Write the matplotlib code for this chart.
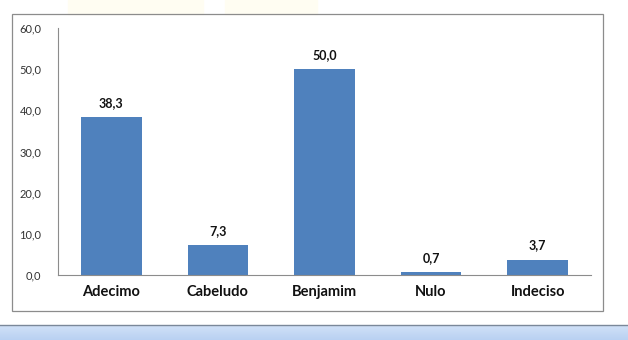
import numpy as np
import matplotlib
matplotlib.use('Agg')
import matplotlib.pyplot as plt
from matplotlib.patches import Rectangle
from matplotlib.lines import Line2D

categories = ['Adecimo', 'Cabeludo', 'Benjamim', 'Nulo', 'Indeciso']
values = [38.3, 7.3, 50.0, 0.7, 3.7]
yticks = [0, 10, 20, 30, 40, 50, 60]

plt.rcParams['font.family'] = ['Lato', 'DejaVu Sans']

fig = plt.figure(figsize=(6.28, 3.40), dpi=100)
fig.patch.set_facecolor('white')

# faint watermark blobs at top
fig.patches.append(Rectangle((68 / 628, 1 - 14 / 340), 135 / 628, 14 / 340,
                             transform=fig.transFigure, color='#fffdf2', zorder=0))
fig.patches.append(Rectangle((225 / 628, 1 - 14 / 340), 92 / 628, 14 / 340,
                             transform=fig.transFigure, color='#fffdf2', zorder=0))

# outer chart frame
fig.patches.append(Rectangle((12 / 628, 29 / 340), 591 / 628, 297 / 340,
                             transform=fig.transFigure, fill=False,
                             edgecolor='#8c8c8c', linewidth=0.9, zorder=1))

# bottom strip
strip = fig.add_axes([0, 0, 1, 14 / 340])
grad = np.linspace(0, 1, 50).reshape(-1, 1)
strip.imshow(grad, aspect='auto', cmap=matplotlib.colors.LinearSegmentedColormap.from_list(
    'g', ['#cfe0f7', '#b9d1f2']), extent=[0, 1, 0, 1])
strip.set_axis_off()
fig.lines.append(Line2D([0, 1], [15 / 340, 15 / 340], transform=fig.transFigure,
                        color='#7a8899', linewidth=1.0))

ax = fig.add_axes([58 / 628, 65 / 340, 533 / 628, 247 / 340])
x = np.arange(len(categories))
bars = ax.bar(x, values, width=0.57, color='#4f81bd', zorder=2)

ax.set_xlim(-0.5, len(categories) - 0.5)
ax.set_ylim(0, 60)
ax.set_yticks(yticks)
ax.set_yticklabels([('%.1f' % v).replace('.', ',') for v in yticks])
ax.set_xticks(x)
ax.set_xticklabels(categories, fontweight='bold', fontsize=10.5)

for s in ['top', 'right']:
    ax.spines[s].set_visible(False)
ax.spines['left'].set_color('#8c8c8c')
ax.spines['bottom'].set_color('#8c8c8c')
ax.tick_params(axis='y', length=0, labelsize=8, pad=12, colors='#333333')
ax.tick_params(axis='x', length=0, pad=7, colors='#111111')

for xi, v in zip(x, values):
    ax.annotate(('%.1f' % v).replace('.', ','), (xi, v), xytext=(0, 6),
                textcoords='offset points', ha='center', va='bottom',
                fontweight='bold', fontsize=9, color='#111111')

fig.savefig('out.png', dpi=100, facecolor='white')
